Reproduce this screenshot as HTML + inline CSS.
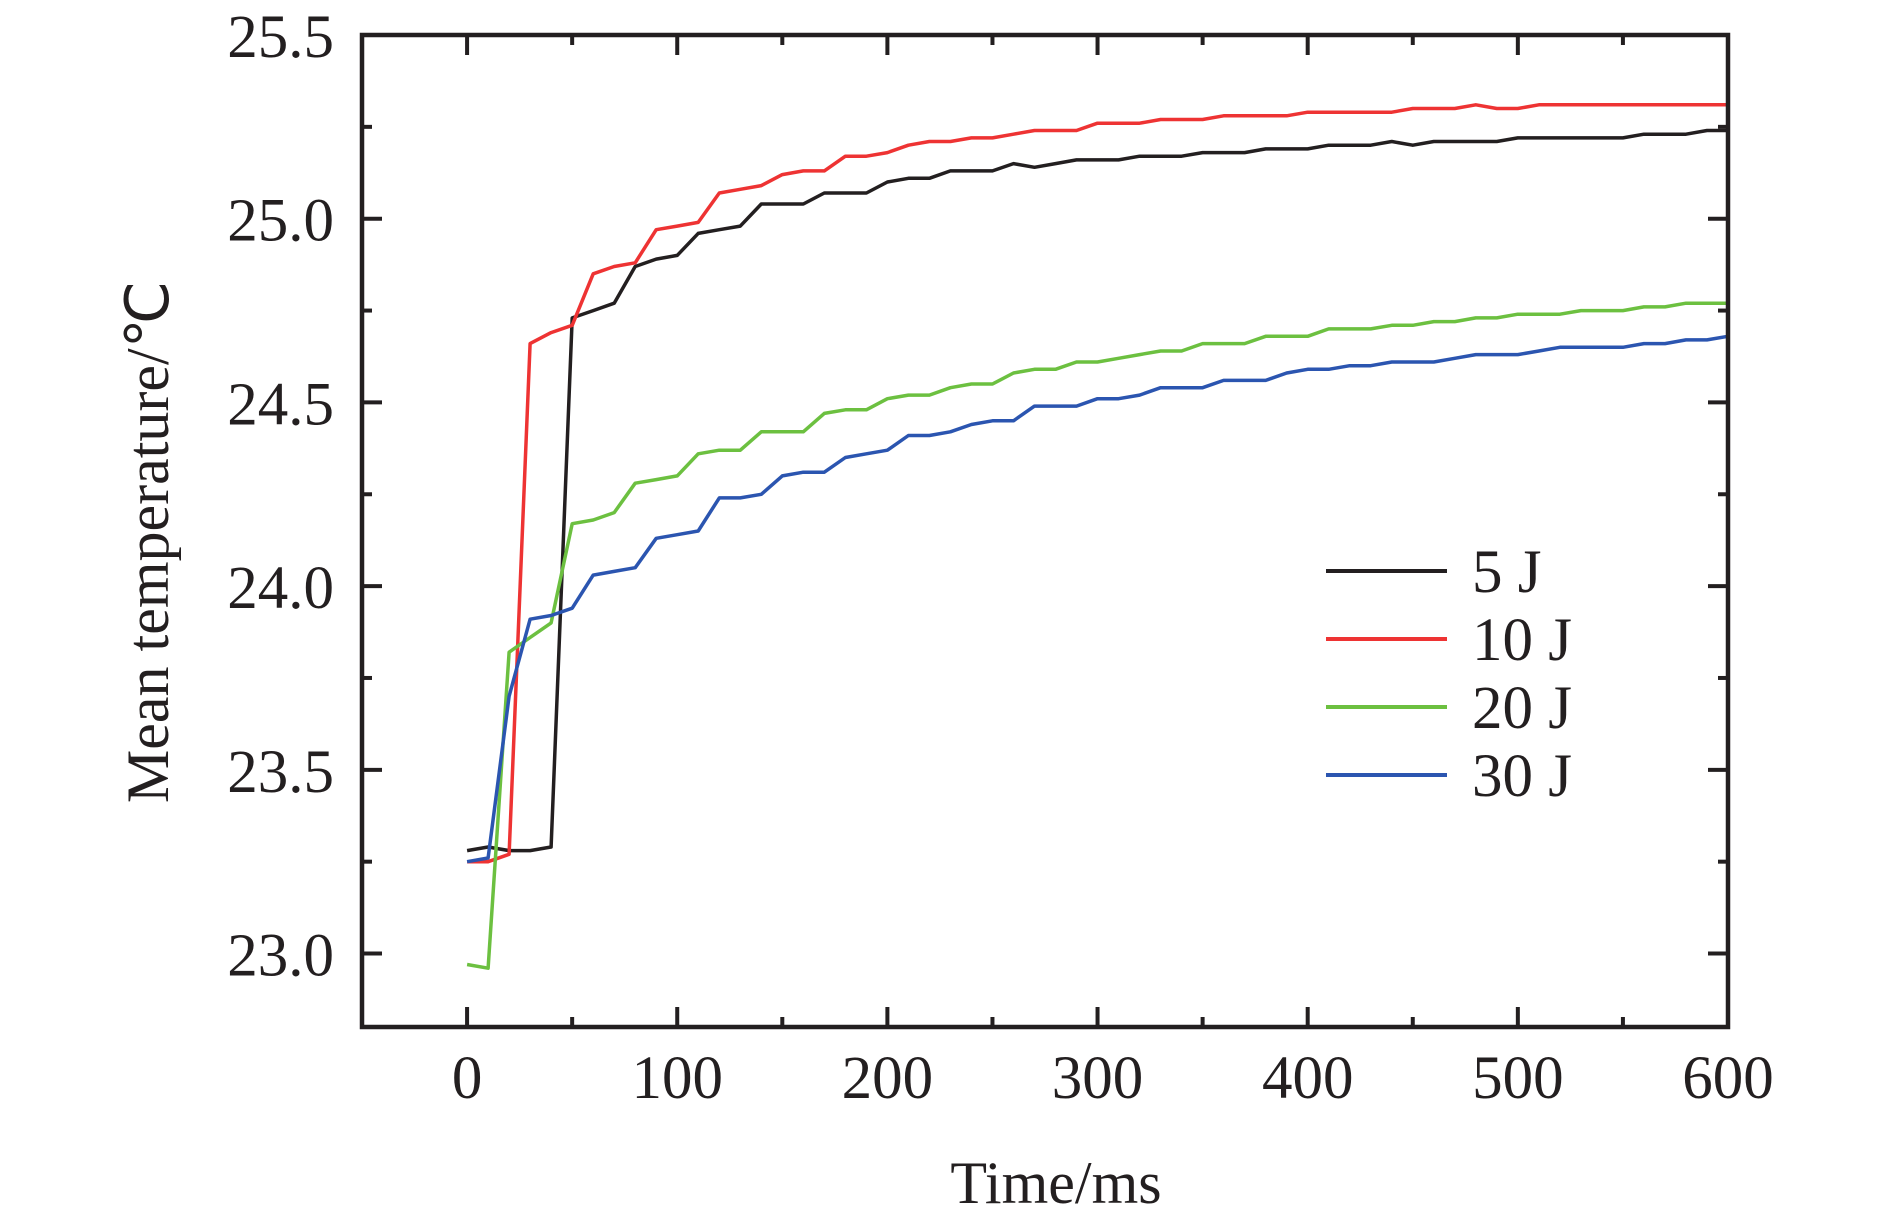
<!DOCTYPE html>
<html><head><meta charset="utf-8">
<style>
html,body{margin:0;padding:0;background:#fff;}
svg{display:block;font-family:"Liberation Serif",serif;}
</style></head>
<body>
<svg id="chart" width="1890" height="1211" viewBox="0 0 1890 1211" xmlns="http://www.w3.org/2000/svg">
<g id="series"></g>
<g id="axes"></g>
<text x="1056" y="1203" font-size="60" text-anchor="middle" fill="#231f20">Time/ms</text>
<text transform="translate(168,542) rotate(-90)" font-size="60" text-anchor="middle" fill="#231f20">Mean temperature/℃</text>
<g id="legend"></g>
</svg>
<script>
const times = [0,10,20,30,40,50,60,70,80,90,100,110,120,130,140,150,160,170,180,190,200,210,220,230,240,250,260,270,280,290,300,310,320,330,340,350,360,370,380,390,400,410,420,430,440,450,460,470,480,490,500,510,520,530,540,550,560,570,580,590,600];
const s5J = [23.28,23.29,23.28,23.28,23.29,24.73,24.75,24.77,24.87,24.89,24.90,24.96,24.97,24.98,25.04,25.04,25.04,25.07,25.07,25.07,25.10,25.11,25.11,25.13,25.13,25.13,25.15,25.14,25.15,25.16,25.16,25.16,25.17,25.17,25.17,25.18,25.18,25.18,25.19,25.19,25.19,25.20,25.20,25.20,25.21,25.20,25.21,25.21,25.21,25.21,25.22,25.22,25.22,25.22,25.22,25.22,25.23,25.23,25.23,25.24,25.24];
const s10J = [23.25,23.25,23.27,24.66,24.69,24.71,24.85,24.87,24.88,24.97,24.98,24.99,25.07,25.08,25.09,25.12,25.13,25.13,25.17,25.17,25.18,25.20,25.21,25.21,25.22,25.22,25.23,25.24,25.24,25.24,25.26,25.26,25.26,25.27,25.27,25.27,25.28,25.28,25.28,25.28,25.29,25.29,25.29,25.29,25.29,25.30,25.30,25.30,25.31,25.30,25.30,25.31,25.31,25.31,25.31,25.31,25.31,25.31,25.31,25.31,25.31];
const s20J = [22.97,22.96,23.82,23.86,23.90,24.17,24.18,24.20,24.28,24.29,24.30,24.36,24.37,24.37,24.42,24.42,24.42,24.47,24.48,24.48,24.51,24.52,24.52,24.54,24.55,24.55,24.58,24.59,24.59,24.61,24.61,24.62,24.63,24.64,24.64,24.66,24.66,24.66,24.68,24.68,24.68,24.70,24.70,24.70,24.71,24.71,24.72,24.72,24.73,24.73,24.74,24.74,24.74,24.75,24.75,24.75,24.76,24.76,24.77,24.77,24.77];
const s30J = [23.25,23.26,23.70,23.91,23.92,23.94,24.03,24.04,24.05,24.13,24.14,24.15,24.24,24.24,24.25,24.30,24.31,24.31,24.35,24.36,24.37,24.41,24.41,24.42,24.44,24.45,24.45,24.49,24.49,24.49,24.51,24.51,24.52,24.54,24.54,24.54,24.56,24.56,24.56,24.58,24.59,24.59,24.60,24.60,24.61,24.61,24.61,24.62,24.63,24.63,24.63,24.64,24.65,24.65,24.65,24.65,24.66,24.66,24.67,24.67,24.68];
const seriesNames = ["5 J","10 J","20 J","30 J"];
const xTickLabels = ["0","100","200","300","400","500","600"];
const yTickLabels = ["23.0","23.5","24.0","24.5","25.0","25.5"];

const NS="http://www.w3.org/2000/svg";
const L=362,R=1728,T=35,B=1027;
const xMin=-50,xMax=600,yMin=22.8,yMax=25.5;
const xs=v=>L+(v-xMin)/(xMax-xMin)*(R-L);
const ys=v=>B-(v-yMin)/(yMax-yMin)*(B-T);
const colors=["#231f20","#ee3333","#6cc040","#2b55b0"];
const allSeries=[s5J,s10J,s20J,s30J];
const ink="#231f20";
function mk(tag,attrs,parent){const e=document.createElementNS(NS,tag);for(const k in attrs)e.setAttribute(k,attrs[k]);parent.appendChild(e);return e;}

const sg=document.getElementById('series');
allSeries.forEach((vals,i)=>{
  const d=vals.map((v,j)=>(j?'L':'M')+xs(times[j]).toFixed(1)+','+ys(v).toFixed(1)).join(' ');
  const p=mk('path',{d:d,fill:'none',stroke:colors[i],'stroke-width':3.5,'stroke-linejoin':'round'},sg);
  
  
});

const ag=document.getElementById('axes');
const frame=mk('rect',{x:L,y:T,width:R-L,height:B-T,fill:'none',stroke:ink,'stroke-width':4.5},ag);


// x ticks
for(let v=0;v<=600;v+=50){
  const major=v%100===0, len=major?20:10, x=xs(v);
  const t1=mk('line',{x1:x,y1:B,x2:x,y2:B-len,stroke:ink,'stroke-width':4},ag);
  
  
  const t2=mk('line',{x1:x,y1:T,x2:x,y2:T+len,stroke:ink,'stroke-width':4},ag);
  
  
}
xTickLabels.forEach(s=>{
  const t=mk('text',{x:xs(parseFloat(s)),y:1098,'font-size':61,'text-anchor':'middle',fill:ink},ag);
  t.textContent=s;
  
  
});
// y ticks
for(let k=0;k<=10;k++){
  const v=22.75+k*0.25; if(v<yMin||v>yMax+1e-9) continue;
  const major=Math.abs(v*2-Math.round(v*2))<1e-6, len=major?20:10, y=ys(v);
  const t1=mk('line',{x1:L,y1:y,x2:L+len,y2:y,stroke:ink,'stroke-width':4},ag);
  
  
  const t2=mk('line',{x1:R,y1:y,x2:R-len,y2:y,stroke:ink,'stroke-width':4},ag);
  
  
}
yTickLabels.forEach(s=>{
  const t=mk('text',{x:334,y:ys(parseFloat(s))+22,'font-size':61,'text-anchor':'end',fill:ink},ag);
  t.textContent=s;
  
  
});
// legend
const lg=document.getElementById('legend');
seriesNames.forEach((n,i)=>{
  const y=571+i*68;
  const ln=mk('line',{x1:1326,y1:y,x2:1447,y2:y,stroke:colors[i],'stroke-width':4},lg);
  
  
  const t=mk('text',{x:1472,y:y+21,'font-size':61,fill:ink},lg);
  t.textContent=n;
  
  
});
</script>
</body></html>
